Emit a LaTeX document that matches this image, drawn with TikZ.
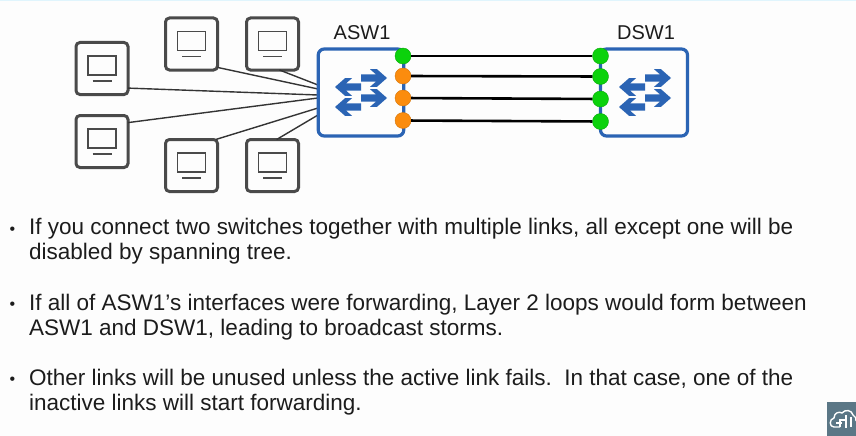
\documentclass[tikz,border=0pt]{standalone}
\usepackage{fontspec}
\setmainfont{Liberation Sans}
\definecolor{bgc}{HTML}{FDFDFD}
\definecolor{swblue}{HTML}{2B64B4}
\definecolor{pcgray}{HTML}{4A4A4A}
\definecolor{portg}{HTML}{0CD20C}
\definecolor{porto}{HTML}{FB8C0E}
\definecolor{iconbg}{HTML}{5B7786}
\definecolor{txt}{HTML}{1C1C1C}
\tikzset{
  pcbox/.style={draw=pcgray,line width=3pt,rounded corners=4pt,fill=bgc,minimum width=52pt,minimum height=52pt,inner sep=0pt,outer sep=0pt},
  pcicon/.pic={
    \draw[pcgray,line width=1.8pt] (-14,-12.5) rectangle (14,6.5);
    \draw[pcgray,line width=1.8pt] (-9.5,12.5) -- (9.5,12.5);
  },
  switchbox/.style={draw=swblue,line width=3.2pt,rounded corners=6pt,fill=bgc,inner sep=0pt,outer sep=0pt},
  wire/.style={draw=pcgray!70!black,line width=1.4pt},
  link/.style={draw=black,line width=2.6pt},
  portgreen/.style={circle,fill=portg,draw=portg!80!black,line width=0.4pt,minimum size=16pt,inner sep=0pt},
  portorange/.style={circle,fill=porto,draw=porto!85!black,line width=0.4pt,minimum size=16pt,inner sep=0pt},
  swarrow/.pic={
    \fill[swblue] (0,-3.6) -- (15,-3.6) -- (9,-8.8) -- (16,-8.8) -- (26,0) -- (16,8.8) -- (9,8.8) -- (15,3.6) -- (0,3.6) -- cycle;
  },
  lab/.style={font=\fontsize{20}{22}\selectfont,text=txt,inner sep=0pt},
  para/.style={font=\fontsize{22.5}{25}\selectfont,text=txt,align=left,inner sep=0pt,anchor=north west},
  bul/.style={font=\fontsize{16}{16}\selectfont,text=txt,inner sep=0pt},
}
\begin{document}
\begin{tikzpicture}[x=1pt,y=-1pt]
\useasboundingbox (0,0) rectangle (856,436);
\fill[bgc] (0,0) rectangle (856,436);
\fill[cyan!12] (0,0) rectangle (856,1.5);

\node[pcbox] (pcA) at (102,68.5) {};
\node[pcbox] (pcB) at (102,141.5) {};
\node[pcbox] (pcC) at (191.5,44) {};
\node[pcbox] (pcD) at (272.5,44) {};
\node[pcbox] (pcE) at (191.5,165.5) {};
\node[pcbox] (pcF) at (272.5,165.5) {};
\foreach \n in {A,B,C,D,E,F} \pic at (pc\n) {pcicon};

\coordinate (hubA) at (318,95);
\coordinate (hubB) at (318,98);
\coordinate (hubC) at (318,89);
\coordinate (hubD) at (318,85);
\coordinate (hubE) at (318,108);
\coordinate (hubF) at (318,115);
\draw[wire] (pcA.-37) -- (hubA);
\draw[wire] (pcB.36) -- (hubB);
\draw[wire] (pcC.-42) -- (hubC);
\draw[wire] (pcD.-75) -- (hubD);
\draw[wire] (pcE.47) -- (hubE);
\draw[wire] (pcF.81) -- (hubF);

\node[switchbox,minimum width=85.5pt,minimum height=87pt] (asw) at (361,92.5) {};
\node[switchbox,minimum width=87pt,minimum height=87pt] (dsw) at (644,92.5) {};

\pic at (361,78) {swarrow};
\pic at (361,98) {swarrow};
\pic[xscale=-1] at (361,87) {swarrow};
\pic[xscale=-1] at (361,107) {swarrow};
\pic at (645,78) {swarrow};
\pic at (645,98) {swarrow};
\pic[xscale=-1] at (645,87) {swarrow};
\pic[xscale=-1] at (645,107) {swarrow};

\node[portgreen] (a1) at (403,56) {};
\node[portorange] (a2) at (403,76) {};
\node[portorange] (a3) at (403,98) {};
\node[portorange] (a4) at (403,120.5) {};
\node[portgreen] (d1) at (600.5,56) {};
\node[portgreen] (d2) at (600.5,76.5) {};
\node[portgreen] (d3) at (600.5,99) {};
\node[portgreen] (d4) at (600.5,121.5) {};
\draw[link] (a1) -- (d1);
\draw[link] (a2) -- (d2);
\draw[link] (a3) -- (d3);
\draw[link] (a4) -- (d4);

\node[lab,anchor=base west] (aswlabel) at (333.5,39.5) {ASW1};
\node[lab,anchor=base west] (dswlabel) at (617,39.5) {DSW1};

\node[bul] (b1) at (12.5,231) {•};
\node[para] (t1) at (29,218.3) {If you connect two switches together with multiple links, all except one will be\\disabled by spanning tree.};
\node[bul] (b2) at (12.5,306) {•};
\node[para] (t2) at (29,294) {If all of ASW1’s interfaces were forwarding, Layer 2 loops would form between\\ASW1 and DSW1, leading to broadcast storms.};
\node[bul] (b3) at (12.5,381) {•};
\node[para] (t3) at (29,369) {Other links will be unused unless the active link fails.\ \ In that case, one of the\\inactive links will start forwarding.};

\fill[iconbg] (827,402) rectangle (856,436);
\draw[white,line width=1.4pt,line join=round] (840,427) -- (834,427) .. controls (829,427) and (829,419) .. (834,418) .. controls (834,413) and (839,411) .. (842,413) .. controls (845,409) and (852,410) .. (853,415) .. controls (856,416) and (856,419) .. (856,421);
\draw[white,line width=1.1pt] (840,427) -- (840,420) -- (846,420) (846,415) -- (846,428) (851,417) -- (851,427) (836,423) -- (842,423);
\end{tikzpicture}
\end{document}
